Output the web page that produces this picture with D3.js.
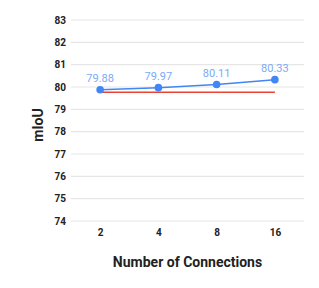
<!DOCTYPE html>
<html>
<head>
<meta charset="utf-8">
<script src="https://cdn.jsdelivr.net/npm/d3@7"></script>
<style>
  body { margin: 0; background: #fff; }
  text { font-family: Roboto, "Noto Sans", sans-serif; }
</style>
</head>
<body>
<div id="chart"></div>
<script>
// Data
const connections = ['2', '4', '8', '16'];
const miou = [79.88, 79.97, 80.11, 80.33];
const baseline = [79.77, 79.77, 79.77, 79.77];
const yTicks = [74, 75, 76, 77, 78, 79, 80, 81, 82, 83];

// Set up margins
const margin = { top: 20, right: 15, bottom: 67, left: 71 };
const width = 319 - margin.left - margin.right;
const height = 288 - margin.top - margin.bottom;

const svg = d3
  .select('#chart')
  .append('svg')
  .attr('width', 319)
  .attr('height', 288)
  .append('g')
  .attr('transform', `translate(${margin.left},${margin.top})`);

// scales
const x = d3.scalePoint().domain(connections).range([0, width]).padding(0.5);
const y = d3.scaleLinear().domain([74, 83]).range([height, 0]);

// gridlines
svg
  .selectAll('.grid')
  .data(yTicks)
  .enter()
  .append('line')
  .attr('x1', 0)
  .attr('x2', width)
  .attr('y1', d => y(d))
  .attr('y2', d => y(d))
  .attr('stroke', '#e6e6e6')
  .attr('stroke-width', 1.2);

// y-axis
const yAxis = svg
  .append('g')
  .call(d3.axisLeft(y).tickValues(yTicks).tickSize(0).tickPadding(5));
yAxis.select('.domain').remove();
yAxis
  .selectAll('text')
  .attr('font-size', '10px')
  .attr('font-weight', 'bold')
  .attr('fill', '#222');

// x-axis
const xAxis = svg
  .append('g')
  .attr('transform', `translate(0,${height})`)
  .call(d3.axisBottom(x).tickSize(0).tickPadding(8));
xAxis.select('.domain').remove();
xAxis
  .selectAll('text')
  .attr('font-size', '10px')
  .attr('font-weight', 'bold')
  .attr('fill', '#222');

// baseline (red)
svg
  .append('path')
  .datum(baseline)
  .attr('fill', 'none')
  .attr('stroke', '#ea4335')
  .attr('stroke-width', 1.5)
  .attr('d', d3.line().x((d, i) => x(connections[i])).y(d => y(d)));

// mIoU line
svg
  .append('path')
  .datum(miou)
  .attr('fill', 'none')
  .attr('stroke', '#4285f4')
  .attr('stroke-width', 1.5)
  .attr('d', d3.line().x((d, i) => x(connections[i])).y(d => y(d)));

svg
  .selectAll('.dot')
  .data(miou)
  .enter()
  .append('circle')
  .attr('cx', (d, i) => x(connections[i]))
  .attr('cy', d => y(d))
  .attr('r', 3.8)
  .attr('fill', '#4285f4');

// value labels
svg
  .selectAll('.lbl')
  .data(miou)
  .enter()
  .append('text')
  .attr('x', (d, i) => x(connections[i]))
  .attr('y', d => y(d) - 8)
  .attr('text-anchor', 'middle')
  .attr('font-size', '11px')
  .attr('fill', '#7baaf7')
  .text(d => d.toFixed(2));

// x-axis label
svg
  .append('text')
  .attr('x', width / 2)
  .attr('y', height + 46)
  .attr('text-anchor', 'middle')
  .attr('font-size', '14px')
  .attr('font-weight', 'bold')
  .attr('fill', '#222')
  .text('Number of Connections');

// y-axis label
svg
  .append('text')
  .attr('transform', 'rotate(-90)')
  .attr('x', -(y(78.3)))
  .attr('y', -28)
  .attr('text-anchor', 'middle')
  .attr('font-size', '14px')
  .attr('font-weight', 'bold')
  .attr('fill', '#222')
  .text('mIoU');
</script>
</body>
</html>
